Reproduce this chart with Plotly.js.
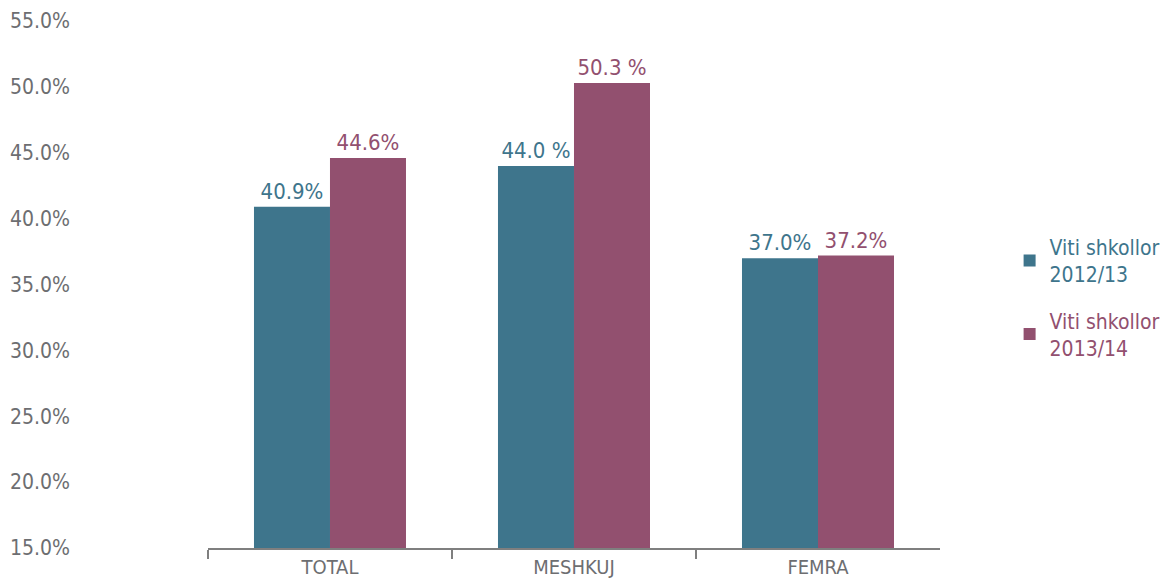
<!DOCTYPE html>
<html>
<head>
<meta charset="utf-8">
<script src="https://cdn.plot.ly/plotly-3.0.1.min.js"></script>
<style>html,body{margin:0;padding:0;background:#fff;}#chart{width:1162px;height:582px;}</style>
</head>
<body>
<div id="chart"></div>
<script>
const categories = ["TOTAL", "MESHKUJ", "FEMRA"];
const values2012 = [40.9, 44.0, 37.0];
const labels2012 = ["40.9%", "44.0 %", "37.0%"];
const values2013 = [44.6, 50.3, 37.2];
const labels2013 = ["44.6%", "50.3 %", "37.2%"];
const seriesNames = ["Viti shkollor<br>2012/13", "Viti shkollor<br>2013/14"];
const yTickVals = [15, 20, 25, 30, 35, 40, 45, 50, 55];
const yTickText = ["15.0%", "20.0%", "25.0%", "30.0%", "35.0%", "40.0%", "45.0%", "50.0%", "55.0%"];
const colors = ["#3e758c", "#92506f"];
const axisBase = 15;

const FONT = '"Liberation Sans Narrow", "DejaVu Sans Condensed", Arial, sans-serif';

function makeTrace(vals, labels, name, color, group) {
  return {
    type: "bar", x: categories, y: vals.map(v => v - axisBase), base: axisBase,
    text: labels, textposition: "outside", cliponaxis: false,
    textfont: {family: FONT, size: 22, color: color},
    marker: {color: color},
    name: '<span style="color:' + color + '">' + name + '</span>',
    legendgroup: group,
    hoverinfo: "skip"
  };
}

const traces = [
  makeTrace(values2012, labels2012, seriesNames[0], colors[0], "a"),
  makeTrace(values2013, labels2013, seriesNames[1], colors[1], "b")
];

const layout = {
  width: 1162, height: 582,
  margin: {l: 70, r: 222, t: 21, b: 34, autoexpand: false},
  paper_bgcolor: "#fff", plot_bgcolor: "#fff",
  font: {family: FONT, size: 19, color: "#6d6e71"},
  barmode: "group", bargap: 0.377, bargroupgap: 0,
  showlegend: true,
  legend: {x: 1.08, y: 0.475, xanchor: "left", yanchor: "middle",
           traceorder: "grouped", tracegroupgap: 16,
           font: {family: FONT, size: 21}},
  xaxis: {domain: [0.1586, 1], type: "category",
          showline: true, linecolor: "#7f7f7f", linewidth: 2,
          ticks: "outside", tickson: "boundaries", ticklen: 9, tickwidth: 2, tickcolor: "#7f7f7f",
          tickfont: {family: FONT, size: 20, color: "#6d6e71"},
          showgrid: false, zeroline: false},
  yaxis: {range: [15, 55], anchor: "free", position: 0,
          tickvals: yTickVals, ticktext: yTickText,
          showgrid: false, zeroline: false, showline: false, ticks: "",
          tickfont: {family: FONT, size: 21, color: "#6d6e71"}}
};

Plotly.newPlot("chart", traces, layout, {displayModeBar: false, staticPlot: true});
</script>
</body>
</html>
